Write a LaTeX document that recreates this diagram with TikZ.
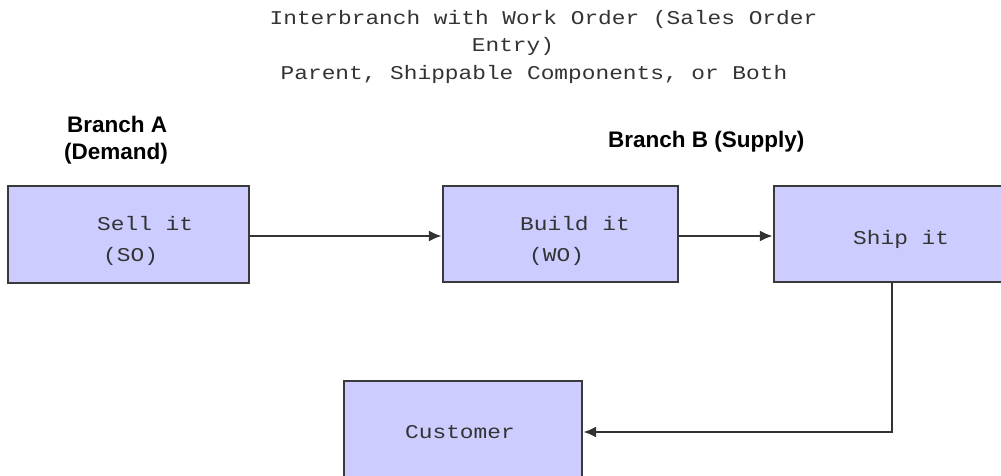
\documentclass[tikz,border=0pt]{standalone}
\usepackage{fontspec}
\setmainfont{Liberation Sans}
\newfontfamily\monof[FakeStretch=1.17]{Liberation Mono}
\newfontfamily\branchf{Liberation Sans}
\usetikzlibrary{arrows.meta}
\definecolor{boxfill}{HTML}{CCCCFF}
\definecolor{boxline}{HTML}{3A3A3A}
\definecolor{inktext}{HTML}{333333}
\tikzset{
  procbox/.style={draw=boxline, line width=2.4pt, fill=boxfill, rectangle, inner sep=0pt},
  monotext/.style={font=\monof\fontsize{19.5}{24}\selectfont, text=inktext, inner sep=0pt, anchor=base west},
  branchtext/.style={font=\branchf\bfseries\fontsize{22.5}{27}\selectfont, text=black, inner sep=0pt, anchor=base west},
  flow/.style={draw=inktext, line width=2.2pt, -{Latex[length=13pt,width=11pt]}}
}
\begin{document}
\begin{tikzpicture}[x=1pt,y=-1pt]
\clip (0,0) rectangle (1001,476);
\useasboundingbox (0,0) rectangle (1001,476);
% title
\node[monotext, anchor=base] (t1) at (543.5,25) {Interbranch with Work Order (Sales Order};
\node[monotext, anchor=base] (t2) at (513,52) {Entry)};
\node[monotext, anchor=base] (t3) at (534,80) {Parent, Shippable Components, or Both};
% branch labels
\node[branchtext] (ba1) at (67,132) {Branch A};
\node[branchtext] (ba2) at (64,159) {(Demand)};
\node[branchtext] (bb) at (608,147) {Branch B (Supply)};
% boxes
\node[procbox, minimum width=241pt, minimum height=97pt] (sell) at (128.5,234.5) {};
\node[procbox, minimum width=235pt, minimum height=96pt] (build) at (560.5,234) {};
\node[procbox, minimum width=256pt, minimum height=96pt] (ship) at (902,234) {};
\node[procbox, minimum width=238pt, minimum height=97pt] (cust) at (463,429.5) {};
% box texts
\node[monotext] (sell1) at (97,230) {Sell it};
\node[monotext] (sell2) at (103,261) {(SO)};
\node[monotext] (build1) at (520,230) {Build it};
\node[monotext] (build2) at (529,261) {(WO)};
\node[monotext] (ship1) at (853,244) {Ship it};
\node[monotext] (cust1) at (405,438) {Customer};
% connectors
\coordinate (sellout) at (sell.east |- 0,236);
\coordinate (buildin) at (build.west |- 0,236);
\draw[flow] (sellout) -- (buildin);
\coordinate (buildout) at (build.east |- 0,236);
\coordinate (shipin) at (ship.west |- 0,236);
\draw[flow] (buildout) -- (shipin);
\coordinate (shipdown) at (892,0 |- ship.south);
\coordinate (corner) at (892,432);
\coordinate (custin) at (cust.east |- corner);
\draw[flow] (shipdown) -- (corner) -- (custin);
\end{tikzpicture}
\end{document}
